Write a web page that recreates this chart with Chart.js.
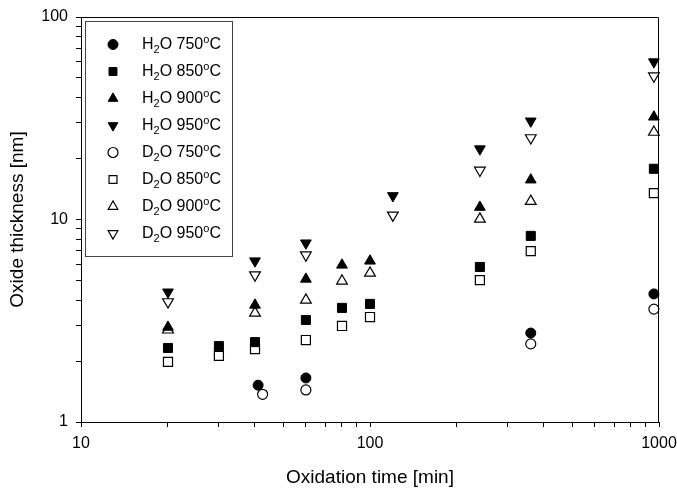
<!DOCTYPE html>
<html>
<head>
<meta charset="utf-8">
<script src="https://cdn.jsdelivr.net/npm/chart.js@4.4.0/dist/chart.umd.min.js"></script>
<style>
  html, body { margin: 0; padding: 0; background: #fff; }
</style>
</head>
<body>
<canvas id="chart" width="677" height="490"></canvas>
<script>
// oxidation times [min] and oxide thickness [nm]
const h2o750Time = [41, 60, 360, 960];
const h2o750Thick = [1.52, 1.65, 2.75, 4.29];
const d2o750Time = [42.5, 60, 360, 960];
const d2o750Thick = [1.37, 1.44, 2.43, 3.61];

const time850 = [20, 30, 40, 60, 80, 100, 240, 360, 960];
const h2o850Thick = [2.32, 2.37, 2.48, 3.19, 3.66, 3.83, 5.83, 8.3, 17.8];
const d2o850Thick = [1.98, 2.12, 2.29, 2.54, 2.98, 3.30, 5.02, 6.98, 13.5];

const time900 = [20, 40, 60, 80, 100, 240, 360, 960];
const h2o900Thick = [2.94, 3.78, 5.08, 5.96, 6.24, 11.5, 15.7, 32.1];
const d2o900Thick = [2.85, 3.45, 4.0, 4.97, 5.44, 10.05, 12.3, 27.0];

const time950 = [20, 40, 60, 120, 240, 360, 960];
const h2o950Thick = [4.38, 6.24, 7.65, 13.1, 22.3, 30.6, 60.0];
const d2o950Thick = [3.92, 5.32, 6.68, 10.5, 17.5, 25.3, 51.1];

const xTicks = [10, 20, 30, 40, 50, 60, 70, 80, 90, 100, 200, 300, 400, 500, 600, 700, 800, 900, 1000];
const xLabels = [10, 100, 1000];
const yTicks = [1, 2, 3, 4, 5, 6, 7, 8, 9, 10, 20, 30, 40, 50, 60, 70, 80, 90, 100];
const yLabels = [1, 10, 100];

const seriesGas = ['H', 'H', 'H', 'H', 'D', 'D', 'D', 'D'];
const seriesTemp = ['750', '850', '900', '950', '750', '850', '900', '950'];

const pts = (xs, ys) => xs.map((x, i) => ({ x: x, y: ys[i] }));

function series(data, style, filled, rot) {
  return {
    data: data,
    pointStyle: style,
    pointRotation: rot || 0,
    pointRadius: style === 'circle' ? 5 : (style === 'rect' ? 6.4 : 6.2),
    pointHoverRadius: style === 'circle' ? 5 : 6.4,
    backgroundColor: filled ? '#000' : '#fff',
    borderColor: '#000',
    borderWidth: filled ? 1 : 1.2,
    showLine: false,
    clip: false
  };
}

const datasets = [
  series(pts(h2o750Time, h2o750Thick), 'circle', true),
  series(pts(time850, h2o850Thick), 'rect', true),
  series(pts(time900, h2o900Thick), 'triangle', true),
  series(pts(time950, h2o950Thick), 'triangle', true, 180),
  series(pts(d2o750Time, d2o750Thick), 'circle', false),
  series(pts(time850, d2o850Thick), 'rect', false),
  series(pts(time900, d2o900Thick), 'triangle', false),
  series(pts(time950, d2o950Thick), 'triangle', false, 180)
];

const FONT = 'Arial, "Liberation Sans", sans-serif';

// top and right sides of the frame
const frame = {
  id: 'frame',
  afterDraw(chart) {
    const { ctx, chartArea: a } = chart;
    ctx.save();
    ctx.strokeStyle = '#000';
    ctx.lineWidth = 1;
    ctx.beginPath();
    ctx.moveTo(Math.round(a.left) + 0.5, Math.round(a.top) + 0.5);
    ctx.lineTo(Math.round(a.right) - 0.5, Math.round(a.top) + 0.5);
    ctx.lineTo(Math.round(a.right) - 0.5, Math.round(a.bottom));
    ctx.stroke();
    ctx.restore();
  }
};

// legend with subscript 2 and superscript o
const legendBox = {
  id: 'legendBox',
  afterDraw(chart) {
    const ctx = chart.ctx;
    ctx.save();
    ctx.fillStyle = '#fff';
    ctx.fillRect(85, 21, 147, 235);
    ctx.strokeStyle = '#444';
    ctx.lineWidth = 1;
    ctx.strokeRect(85.5, 21.5, 147, 235);
    chart.data.datasets.forEach((ds, i) => {
      const y = 44.5 + i * 27;
      ctx.fillStyle = ds.backgroundColor;
      ctx.strokeStyle = ds.borderColor;
      ctx.lineWidth = ds.borderWidth;
      Chart.helpers.drawPoint(ctx, {
        pointStyle: ds.pointStyle,
        radius: ds.pointStyle === 'circle' ? 5 : 5.6,
        rotation: ds.pointRotation,
        borderWidth: ds.borderWidth
      }, 113, y);

      ctx.fillStyle = '#000';
      ctx.textBaseline = 'middle';
      ctx.textAlign = 'left';
      let x = 142;
      const big = '16px ' + FONT, small = '11px ' + FONT;
      ctx.font = big;
      ctx.fillText(seriesGas[i], x, y);
      x += ctx.measureText(seriesGas[i]).width;
      ctx.font = small;
      ctx.fillText('2', x, y + 5);
      x += ctx.measureText('2').width;
      ctx.font = big;
      const mid = 'O ' + seriesTemp[i];
      ctx.fillText(mid, x, y);
      x += ctx.measureText(mid).width;
      ctx.font = small;
      ctx.fillText('o', x, y - 5);
      x += ctx.measureText('o').width;
      ctx.font = big;
      ctx.fillText('C', x, y);
    });
    ctx.restore();
  }
};

new Chart(document.getElementById('chart'), {
  type: 'scatter',
  data: { datasets: datasets },
  plugins: [frame, legendBox],
  options: {
    responsive: false,
    animation: false,
    events: [],
    layout: { padding: { left: 0, top: 17, right: 18, bottom: 0 } },
    plugins: { legend: { display: false }, tooltip: { enabled: false } },
    scales: {
      x: {
        type: 'logarithmic',
        min: 10,
        max: 1000,
        afterBuildTicks: s => { s.ticks = xTicks.map(v => ({ value: v })); },
        afterFit: s => { s.height = 68; s.paddingRight = 0; s.paddingLeft = 0; },
        ticks: {
          autoSkip: false,
          maxRotation: 0,
          padding: 7,
          color: '#000',
          font: { family: FONT, size: 16 },
          callback: v => xLabels.includes(v) ? String(v) : ''
        },
        grid: { drawOnChartArea: false, drawTicks: true, tickLength: 5, color: '#000' },
        border: { display: true, color: '#000', width: 1 },
        title: {
          display: true,
          text: 'Oxidation time [min]',
          color: '#000',
          font: { family: FONT, size: 19 },
          padding: { top: 0, bottom: 1 }
        }
      },
      y: {
        type: 'logarithmic',
        min: 1,
        max: 100,
        afterBuildTicks: s => { s.ticks = yTicks.map(v => ({ value: v })); },
        afterFit: s => { s.width = 81; s.paddingTop = 0; s.paddingBottom = 0; },
        ticks: {
          autoSkip: false,
          padding: 8,
          color: '#000',
          font: { family: FONT, size: 16 },
          callback: v => yLabels.includes(v) ? String(v) : ''
        },
        grid: { drawOnChartArea: false, drawTicks: true, tickLength: 5, color: '#000' },
        border: { display: true, color: '#000', width: 1 },
        title: {
          display: true,
          text: 'Oxide thickness [nm]',
          color: '#000',
          font: { family: FONT, size: 19 },
          padding: { top: 6, bottom: 0 }
        }
      }
    }
  }
});
</script>
</body>
</html>
